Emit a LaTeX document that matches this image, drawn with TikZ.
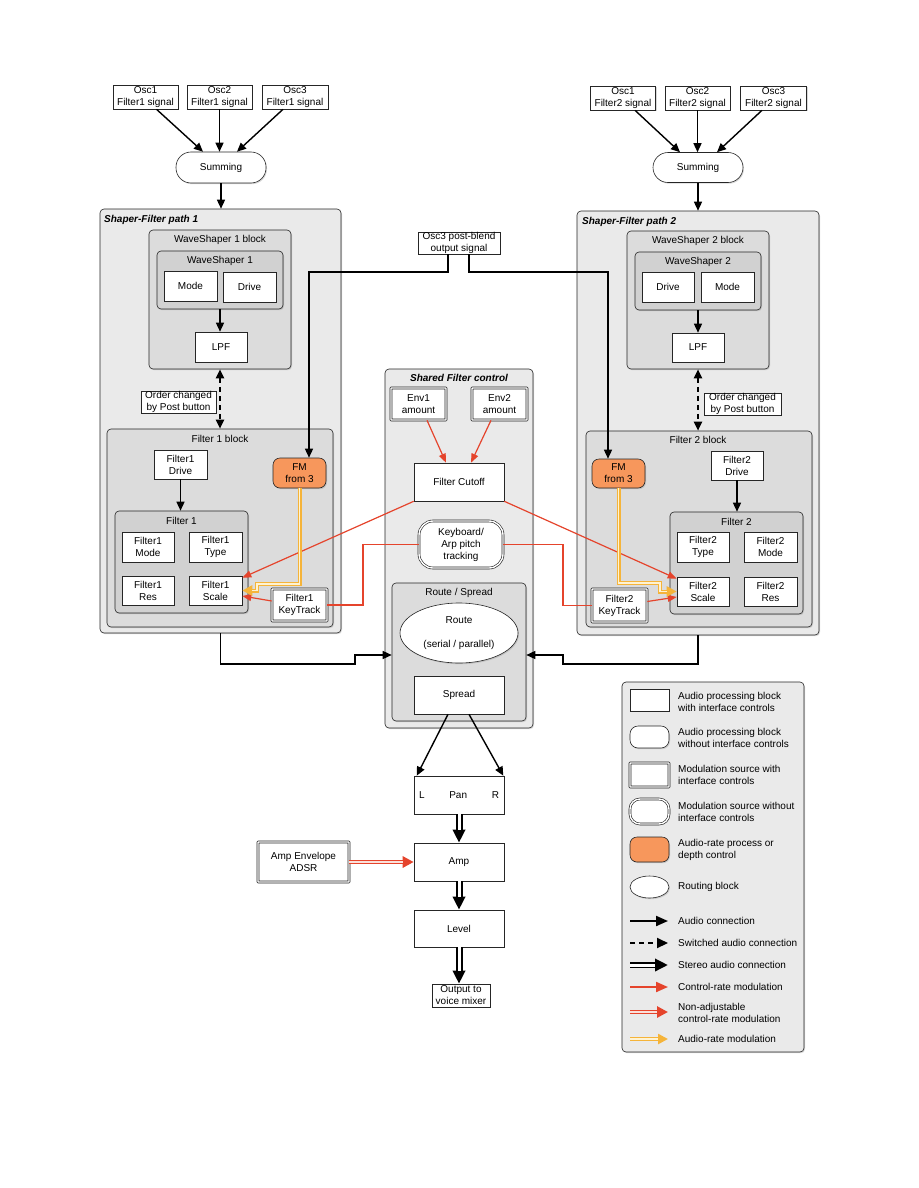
\documentclass[tikz,border=0pt]{standalone}
\usepackage{fontspec}
\setmainfont{Liberation Sans}
\usetikzlibrary{arrows.meta,shapes.geometric,shadows}
\definecolor{ctlred}{HTML}{E5442C}
\definecolor{ctlpale}{HTML}{FBE0DA}
\definecolor{fmorange}{HTML}{F7975C}
\definecolor{arateyel}{HTML}{F5B43A}
\definecolor{aratepale}{HTML}{FFF3D2}
\definecolor{areaA}{HTML}{EAEAEA}
\definecolor{areaB}{HTML}{DCDCDC}
\definecolor{areaC}{HTML}{D1D1D1}

\begin{document}
\begin{tikzpicture}[x=1pt,y=-1pt,
  font=\fontsize{10}{12}\selectfont,
  shd/.style={drop shadow={shadow xshift=1pt,shadow yshift=-1.2pt,opacity=0.3}},
  sz/.style 2 args={minimum width=#1,minimum height=#2},
  blk/.style={draw=black!85,line width=0.6pt,fill=white,align=center,inner sep=0pt,shd},
  rblk/.style={blk,rounded corners=8pt},
  modsrc/.style={blk,rounded corners=0.5pt,double=white,double distance=1.4pt},
  rmodsrc/.style={modsrc,rounded corners=10pt},
  fmblk/.style={blk,fill=fmorange,rounded corners=7pt},
  routing/.style={blk,ellipse},
  outer/.style={draw=black!85,line width=0.6pt,fill=areaA,rounded corners=4pt,inner sep=0pt,shd},
  midarea/.style={outer,fill=areaB},
  inarea/.style={outer,fill=areaC},
  ttl/.style={font=\fontsize{10}{12}\selectfont\bfseries\itshape,inner sep=0pt},
  audio/.style={line width=1.4pt,-{Triangle[length=9pt,width=8pt]}},
  switched/.style={line width=2pt,dash pattern=on 5pt off 4pt,{Triangle[length=9pt,width=8pt]}-{Triangle[length=9pt,width=8pt]}},
  legswitch/.style={line width=2pt,dash pattern=on 5pt off 4pt,-{Triangle[length=11pt,width=10pt]}},
  stereo/.style={line width=7pt,-{Triangle[length=13pt,width=12pt]},postaction={draw=white,line width=3pt,-,shorten >=13pt}},
  ctl/.style={draw=ctlred,line width=1.2pt,-{Triangle[length=9pt,width=7pt]}},
  ctlline/.style={draw=ctlred,line width=1.2pt},
  nonadj/.style={draw=ctlred,line width=4.5pt,-{Triangle[length=11pt,width=11pt]},postaction={draw=ctlpale,line width=1.8pt,-,shorten >=11pt}},
  arate/.style={draw=arateyel,line width=4pt,-{Triangle[length=10pt,width=10pt]},postaction={draw=aratepale,line width=1.8pt,-,shorten >=10pt}}]
  \useasboundingbox[fill=white] (0,0) rectangle (918,1188);

  % filter 1 inputs
  \node[blk,sz={65}{24}] (osc1a) at (145.5,97) {Osc1\\Filter1 signal};
  \node[blk,sz={65}{24}] (osc2a) at (219.5,97) {Osc2\\Filter1 signal};
  \node[blk,sz={66}{24}] (osc3a) at (295,97) {Osc3\\Filter1 signal};
  \node[rblk,rounded corners=15pt,sz={90}{31}] (suma) at (221,167.5) {Summing};
  % filter 2 inputs
  \node[blk,sz={65}{24}] (osc1b) at (623,98) {Osc1\\Filter2 signal};
  \node[blk,sz={65}{24}] (osc2b) at (697.5,98) {Osc2\\Filter2 signal};
  \node[blk,sz={66}{24}] (osc3b) at (773.5,98) {Osc3\\Filter2 signal};
  \node[rblk,rounded corners=15pt,sz={90}{30}] (sumb) at (698,167.5) {Summing};

  % shaper-filter path 1
  \node[outer,sz={241}{424}] (path1) at (220.5,421) {};
  \node[ttl,anchor=base west] (path1txt) at (104,222) {Shaper-Filter path 1};
  \node[midarea,sz={142}{139}] (ws1blk) at (220,299.5) {};
  \node (ws1blktxt) at (220,240) {WaveShaper 1 block};
  \node[inarea,sz={126}{58}] (ws1) at (220,280) {};
  \node (ws1txt) at (220,261) {WaveShaper 1};
  \node[blk,sz={53}{30}] (ws1mode) at (190.5,286) {Mode};
  \node[blk,sz={53}{30}] (ws1drive) at (249.5,287) {Drive};
  \node[blk,sz={52}{30}] (lpf1) at (221,347) {LPF};
  \node[blk,sz={75}{22}] (order1) at (178.5,402) {Order changed\\by Post button};
  \node[midarea,sz={226}{198}] (flt1blk) at (220,528) {};
  \node (flt1blktxt) at (220,439) {Filter 1 block};
  \node[blk,sz={53}{29}] (f1drive) at (180.5,464.5) {Filter1\\Drive};
  \node[inarea,sz={133}{102}] (flt1) at (181.5,562) {};
  \node (flt1txt) at (181.5,521) {Filter 1};
  \node[blk,sz={52}{30}] (f1mode) at (148,547) {Filter1\\Mode};
  \node[blk,sz={53}{30}] (f1type) at (215.5,547) {Filter1\\Type};
  \node[blk,sz={52}{29}] (f1res) at (148,590.5) {Filter1\\Res};
  \node[blk,sz={53}{29}] (f1scale) at (215.5,590.5) {Filter1\\Scale};
  \node[fmblk,sz={53}{30}] (fm1) at (299.5,473) {FM\\from 3};
  \node[modsrc,sz={55}{32}] (f1key) at (299.5,605) {Filter1\\KeyTrack};

  % shaper-filter path 2
  \node[outer,sz={242}{424}] (path2) at (698,423) {};
  \node[ttl,anchor=base west] (path2txt) at (582,224) {Shaper-Filter path 2};
  \node[midarea,sz={142}{138}] (ws2blk) at (698,300) {};
  \node (ws2blktxt) at (698,241) {WaveShaper 2 block};
  \node[inarea,sz={126}{58}] (ws2) at (698,281) {};
  \node (ws2txt) at (698,262) {WaveShaper 2};
  \node[blk,sz={52}{30}] (ws2drive) at (668,287) {Drive};
  \node[blk,sz={53}{30}] (ws2mode) at (727.5,287) {Mode};
  \node[blk,sz={52}{29}] (lpf2) at (698,347.5) {LPF};
  \node[blk,sz={77}{22}] (order2) at (742.5,404) {Order changed\\by Post button};
  \node[midarea,sz={226}{196}] (flt2blk) at (699,529) {};
  \node (flt2blktxt) at (698,440) {Filter 2 block};
  \node[fmblk,sz={53}{29}] (fm2) at (618.5,473.5) {FM\\from 3};
  \node[blk,sz={52}{29}] (f2drive) at (737,465.5) {Filter2\\Drive};
  \node[inarea,sz={133}{102}] (flt2) at (736.5,563) {};
  \node (flt2txt) at (736.5,522) {Filter 2};
  \node[blk,sz={52}{30}] (f2type) at (703,547) {Filter2\\Type};
  \node[blk,sz={53}{30}] (f2mode) at (770.5,547) {Filter2\\Mode};
  \node[blk,sz={52}{29}] (f2scale) at (703,591.5) {Filter2\\Scale};
  \node[blk,sz={53}{29}] (f2res) at (770.5,591.5) {Filter2\\Res};
  \node[modsrc,sz={55}{33}] (f2key) at (619.5,605.5) {Filter2\\KeyTrack};

  % shared filter control
  \node[blk,sz={82}{22}] (osc3pb) at (459,243) {Osc3 post-blend\\output signal};
  \node[outer,sz={148}{359}] (shared) at (459,548.5) {};
  \node[ttl] (sharedtxt) at (459,378) {Shared Filter control};
  \node[modsrc,sz={55}{32}] (env1) at (418.5,404) {Env1\\amount};
  \node[modsrc,sz={55}{32}] (env2) at (499.5,404) {Env2\\amount};
  \node[blk,sz={90}{38}] (cutoff) at (459,482) {Filter Cutoff};
  \node[rmodsrc,rounded corners=14pt,sz={84}{47}] (keyarp) at (461,544.5) {Keyboard/\\Arp pitch\\tracking};
  \node[midarea,sz={134}{138}] (routebox) at (459,652) {};
  \node (routeboxtxt) at (459,593) {Route / Spread};
  \node[routing,sz={118}{60}] (route) at (459,633) {Route\\[12pt](serial / parallel)};
  \node[blk,sz={90}{38}] (spread) at (459,695) {Spread};

  % output chain
  \node[blk,sz={90}{38}] (pan) at (459,795) {\makebox[80pt]{L\hfill Pan\hfill R}};
  \node[blk,sz={90}{38}] (amp) at (459,862) {Amp};
  \node[modsrc,sz={91}{40}] (ampenv) at (303.5,862) {Amp Envelope\\ADSR};
  \node[blk,sz={90}{37}] (level) at (459,928.5) {Level};
  \node[blk,sz={58}{23}] (outmix) at (461,995.5) {Output to\\voice mixer};

  % joints
  \coordinate (jfm1) at (309,272);
  \coordinate (jfm2) at (608,272);
  \coordinate (jkey1) at (363,580);
  \coordinate (jkey2) at (563,580);
  \coordinate (jya) at (257,584);
  \coordinate (jyb) at (660,583);
  \coordinate (jra) at (355,664);
  \coordinate (jrb) at (563,664);

  % audio connections
  \draw[audio] ([xshift=11pt]osc1a.south) -- ([xshift=-18pt]suma.north);
  \draw[audio] (osc2a.south) -- (osc2a.south |- suma.north);
  \draw[audio] ([xshift=-12pt]osc3a.south) -- ([xshift=16pt]suma.north);
  \draw[audio] ([xshift=12pt]osc1b.south) -- ([xshift=-18pt]sumb.north);
  \draw[audio] (osc2b.south) -- (osc2b.south |- sumb.north);
  \draw[audio] ([xshift=-11.5pt]osc3b.south) -- ([xshift=19pt]sumb.north);
  \draw[audio] (suma.south) -- (suma.south |- path1.north);
  \draw[audio] (sumb.south) -- (sumb.south |- path2.north);
  \draw[audio] (ws1.south) -- (ws1.south |- lpf1.north);
  \draw[audio] (ws2.south) -- (ws2.south |- lpf2.north);
  \draw[switched] (ws1blk.south) -- (ws1blk.south |- flt1blk.north);
  \draw[switched] (ws2blk.south) -- (ws2blk.south |- flt2blk.north);
  \draw[audio] (f1drive.south) -- (f1drive.south |- flt1.north);
  \draw[audio] (f2drive.south) -- (f2drive.south |- flt2.north);
  \draw[audio] ([xshift=-11pt]osc3pb.south) |- (jfm1) -- (jfm1 |- fm1.north);
  \draw[audio] ([xshift=10pt]osc3pb.south) |- (jfm2) -- (jfm2 |- fm2.north);
  \draw[audio] (path1.south) |- (jra) |- ([yshift=-3pt]routebox.west);
  \draw[audio] (path2.south) |- (jrb) |- ([yshift=-3pt]routebox.east);
  \draw[audio] ([xshift=-11pt]spread.south) -- ([xshift=3pt]pan.north west);
  \draw[audio] ([xshift=10pt]spread.south) -- ([xshift=-1pt]pan.north east);
  \draw[stereo] (pan.south) -- (amp.north);
  \draw[stereo] (amp.south) -- (level.north);
  \draw[stereo] (level.south) -- (level.south |- outmix.north);

  % modulation
  \draw[ctl] ([xshift=8.5pt]env1.south) -- ([xshift=-13pt]cutoff.north);
  \draw[ctl] ([xshift=-8.5pt]env2.south) -- ([xshift=12pt]cutoff.north);
  \draw[ctl] (cutoff.south west) -- ([yshift=-2pt]f1scale.north east);
  \draw[ctl] (cutoff.south east) -- ([yshift=-2pt]f2scale.north west);
  \draw[ctlline] (keyarp.west) -| (jkey1) |- (f1key.east);
  \draw[ctlline] (keyarp.east) -| (jkey2) |- (f2key.west);
  \draw[ctl] ([yshift=4pt]f1key.west) -- ([yshift=-5.5pt]f1scale.east);
  \draw[ctl] ([yshift=4pt]f2key.east) -- ([yshift=-5.5pt]f2scale.west);
  \draw[arate] (fm1.south) |- (jya) |- (f1scale.east);
  \draw[arate] (fm2.south) |- (jyb) |- (f2scale.west);
  \draw[nonadj] (ampenv.east) -- (amp.west);

  % legend
  \node[outer,sz={182}{370}] (legend) at (713,867) {};
  \node[blk,sz={39}{22}] (lg1) at (649.5,700) {};
  \node[rblk,sz={39}{22}] (lg2) at (649.5,737) {};
  \node[modsrc,sz={39}{24}] (lg3) at (649.5,775) {};
  \node[rmodsrc,sz={39}{25}] (lg4) at (649.5,811.5) {};
  \node[fmblk,sz={39}{25}] (lg5) at (649.5,849.5) {};
  \node[routing,sz={39}{22}] (lg6) at (649.5,887) {};
  \foreach \y/\txt [count=\i] in {701.5/{Audio processing block\\with interface controls},
      738/{Audio processing block\\without interface controls},
      775/{Modulation source with\\interface controls},
      812/{Modulation source without\\interface controls},
      849.5/{Audio-rate process or\\depth control},
      887/{Routing block},
      921/{Audio connection},
      943/{Switched audio connection},
      965/{Stereo audio connection},
      987/{Control-rate modulation},
      1012.5/{Non-adjustable\\control-rate modulation},
      1039/{Audio-rate modulation}}
    \node[anchor=west,align=left,inner sep=0pt] (lgtxt\i) at (678,\y) {\txt};
  \coordinate (lga) at (630,921);
  \coordinate (lgb) at (630,943);
  \coordinate (lgc) at (630,965);
  \coordinate (lgd) at (630,987);
  \coordinate (lge) at (630,1012);
  \coordinate (lgf) at (630,1039);
  \draw[audio,line width=2pt,-{Triangle[length=12pt,width=10pt]}] (lga) -- ++(38,0);
  \draw[legswitch] (lgb) -- ++(38,0);
  \draw[stereo,line width=6pt] (lgc) -- ++(38,0);
  \draw[ctl,line width=2pt,-{Triangle[length=12pt,width=10pt]}] (lgd) -- ++(38,0);
  \draw[nonadj] (lge) -- ++(38,0);
  \draw[arate] (lgf) -- ++(38,0);
\end{tikzpicture}
\end{document}
